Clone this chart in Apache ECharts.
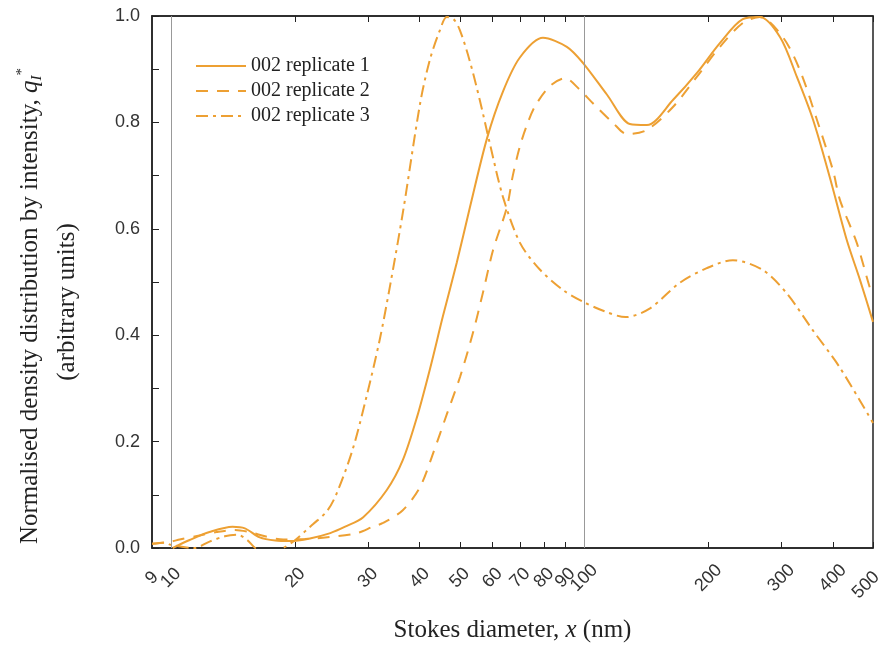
<!DOCTYPE html>
<html><head><meta charset="utf-8">
<script src="https://cdn.jsdelivr.net/npm/echarts@6/dist/echarts.min.js"></script>
<style>html,body{margin:0;padding:0;background:#fff}#c{width:878px;height:648px}</style>
</head><body><div id="c"></div>
<script>
// Tick labels
const xTicks = [10, 20, 30, 40, 50, 60, 70, 80, 90, 100, 200, 300, 400, 500];
const xMinLabel = [9];
const refLines = [10, 100];
const seriesNames = ['002 replicate 1', '002 replicate 2', '002 replicate 3'];

// replicate 1 (solid)
const rep1X = [10.1, 11.1, 12.4, 14.1, 15.1, 16.4, 17.9, 19.4, 21.7, 24.3, 26.4, 29.2, 33.3, 36.4, 39.4, 42.4, 45.5, 49.2, 52.9, 58.2, 63.6, 69.9, 79.5, 90.8, 99.3, 113.6, 129, 141.9, 164, 187.5, 213, 242, 266, 298, 327, 358, 393, 432, 465, 500];
const rep1Y = [0.0, 0.015, 0.03, 0.04, 0.037, 0.02, 0.014, 0.013, 0.018, 0.028, 0.04, 0.058, 0.109, 0.165, 0.246, 0.338, 0.435, 0.537, 0.64, 0.77, 0.858, 0.922, 0.959, 0.942, 0.912, 0.852, 0.797, 0.795, 0.842, 0.893, 0.949, 0.994, 0.998, 0.96, 0.886, 0.805, 0.697, 0.579, 0.504, 0.425];

// replicate 2 (dashed)
const rep2X = [9.0, 10.0, 10.5, 11.8, 12.9, 14.3, 15.5, 16.9, 18.7, 21.1, 23.9, 28.2, 30.8, 32.6, 36.4, 40.1, 43.1, 46.6, 50.1, 53.8, 56.9, 60.2, 65.0, 67.2, 69.9, 72.7, 76.0, 82.6, 89.9, 97.7, 105, 117.5, 127, 141.9, 164, 187.5, 213, 242, 266, 302.7, 332.8, 365.8, 400, 416, 457, 491, 500];
const rep2Y = [0.008, 0.012, 0.016, 0.024, 0.03, 0.034, 0.03, 0.022, 0.016, 0.017, 0.02, 0.028, 0.04, 0.047, 0.071, 0.115, 0.178, 0.253, 0.322, 0.404, 0.48, 0.56, 0.64, 0.70, 0.755, 0.795, 0.83, 0.868, 0.883, 0.861, 0.836, 0.799, 0.778, 0.786, 0.829, 0.886, 0.942, 0.987, 0.998, 0.96, 0.898, 0.805, 0.71, 0.654, 0.573, 0.49, 0.475];

// replicate 3 (dash-dot)
const rep3X = [9.0, 9.67, 10.0, 11.4, 12.4, 13.5, 14.5, 15.3, 16.0, 17.3, 18.7, 20.0, 21.3, 22.1, 23.9, 25.2, 27.5, 29.6, 32.0, 34.0, 36.5, 40.1, 42.3, 44.8, 46.5, 48.3, 50.0, 52.8, 55.9, 59.1, 63.6, 70, 78.2, 88.9, 99.3, 112, 126, 144, 170, 198, 229, 270, 309, 357, 415, 500];
const rep3Y = [0.008, 0.01, 0.006, 0.0, 0.012, 0.022, 0.025, 0.015, 0.0, -0.01, 0.0, 0.015, 0.034, 0.045, 0.07, 0.103, 0.184, 0.278, 0.391, 0.498, 0.635, 0.836, 0.917, 0.974, 0.998, 0.994, 0.974, 0.917, 0.842, 0.761, 0.66, 0.573, 0.523, 0.485, 0.463, 0.445, 0.434, 0.45, 0.498, 0.526, 0.541, 0.523, 0.479, 0.41, 0.34, 0.235];

const orange = '#EDA033';
const ink = '#222';
const zip = (xs, ys) => xs.map((x, i) => [x, ys[i]]);

const chart = echarts.init(document.getElementById('c'), null, {renderer: 'canvas'});
const labelFont = {fontFamily: 'Liberation Sans', fontSize: 18, color: '#333'};
const serif = 'Liberation Serif';
const xAxisBase = {
  type: 'log', logBase: 10, min: 9, max: 500,
  splitLine: {show: false},
  axisLine: {show: true, lineStyle: {color: ink, width: 1.5}},
  axisTick: {show: true, inside: true, length: 6, customValues: xTicks, lineStyle: {color: ink}},
  minorTick: {show: false}
};
const lastTick = xTicks[xTicks.length - 1];
const rotLabel = (vals) => Object.assign({show: true, rotate: 45, margin: 30, align: 'center', verticalAlign: 'middle',
  showMinLabel: true, showMaxLabel: true, hideOverlap: false,
  customValues: vals,
  formatter: v => Math.round(v) === lastTick ? '{e|' + Math.round(v) + '}' : String(Math.round(v)),
  rich: {e: Object.assign({padding: [0, 20, 0, 0]}, labelFont)}}, labelFont);
chart.setOption({
  animation: false,
  backgroundColor: '#fff',
  grid: {left: 152, right: 5, top: 16, bottom: 100, show: true, borderColor: ink, borderWidth: 1.5,
         containLabel: false, outerBoundsMode: 'none'},
  legend: {
    orient: 'vertical', left: 190, top: 51, itemWidth: 50, itemHeight: 14, itemGap: 5,
    itemStyle: {opacity: 0},
    textStyle: {fontFamily: serif, fontSize: 20, color: ink},
    data: seriesNames
  },
  xAxis: [
    Object.assign({}, xAxisBase, {
      position: 'bottom',
      axisLabel: rotLabel(xTicks),
      name: '{a|Stokes diameter, }{i|x}{a| (nm)}', nameLocation: 'middle', nameGap: 70,
      nameTextStyle: {rich: {a: {fontFamily: serif, fontSize: 25, color: ink}, i: {fontFamily: serif, fontStyle: 'italic', fontSize: 25, color: ink}}}
    }),
    Object.assign({}, xAxisBase, {position: 'top', axisLabel: {show: false}}),
    Object.assign({}, xAxisBase, {position: 'bottom', axisLine: {show: false}, axisTick: {show: false},
      axisLabel: rotLabel(xMinLabel)})
  ],
  yAxis: [{
    type: 'value', min: 0, max: 1, interval: 0.2,
    splitLine: {show: false},
    axisLine: {show: true, lineStyle: {color: ink, width: 1.5}},
    axisTick: {show: true, inside: true, length: 7, lineStyle: {color: ink}},
    minorTick: {show: true, splitNumber: 2, length: 7, lineStyle: {color: ink}},
    axisLabel: Object.assign({formatter: v => v.toFixed(1), margin: 12}, labelFont)
  }],
  graphic: [
    {type: 'text', x: 30, y: 306, rotation: Math.PI / 2,
     style: {
       text: '{a|Normalised density distribution by intensity, }{i|q}{s|I}{t|*}',
       align: 'center', verticalAlign: 'middle',
       rich: {a: {fontFamily: serif, fontSize: 25, fill: ink},
              i: {fontFamily: serif, fontStyle: 'italic', fontSize: 25, fill: ink},
              s: {fontFamily: serif, fontStyle: 'italic', fontSize: 15, fill: ink, padding: [14, 0, 0, 0]},
              t: {fontFamily: serif, fontSize: 15, fill: ink, padding: [0, 0, 16, 0]}}
     }},
    {type: 'text', x: 67, y: 302, rotation: Math.PI / 2,
     style: {text: '(arbitrary units)', align: 'center', verticalAlign: 'middle', fontFamily: serif, fontSize: 25, fill: ink}}
  ],
  series: [
    {name: seriesNames[0], type: 'line', data: zip(rep1X, rep1Y), smooth: 0.3, symbol: 'none', showSymbol: false,
     lineStyle: {color: orange, width: 2, type: 'solid'}, itemStyle: {color: orange},
     markLine: {silent: true, symbol: 'none', label: {show: false}, lineStyle: {color: '#999', width: 1, type: 'solid'},
       data: refLines.map(v => ({xAxis: v}))}},
    {name: seriesNames[1], type: 'line', data: zip(rep2X, rep2Y), smooth: 0.3, symbol: 'none', showSymbol: false,
     lineStyle: {color: orange, width: 2, type: [12, 9]}, itemStyle: {color: orange}},
    {name: seriesNames[2], type: 'line', data: zip(rep3X, rep3Y), smooth: 0.3, symbol: 'none', showSymbol: false,
     lineStyle: {color: orange, width: 2, type: [12, 5, 3, 5]}, itemStyle: {color: orange}}
  ]
});
</script>
</body></html>
